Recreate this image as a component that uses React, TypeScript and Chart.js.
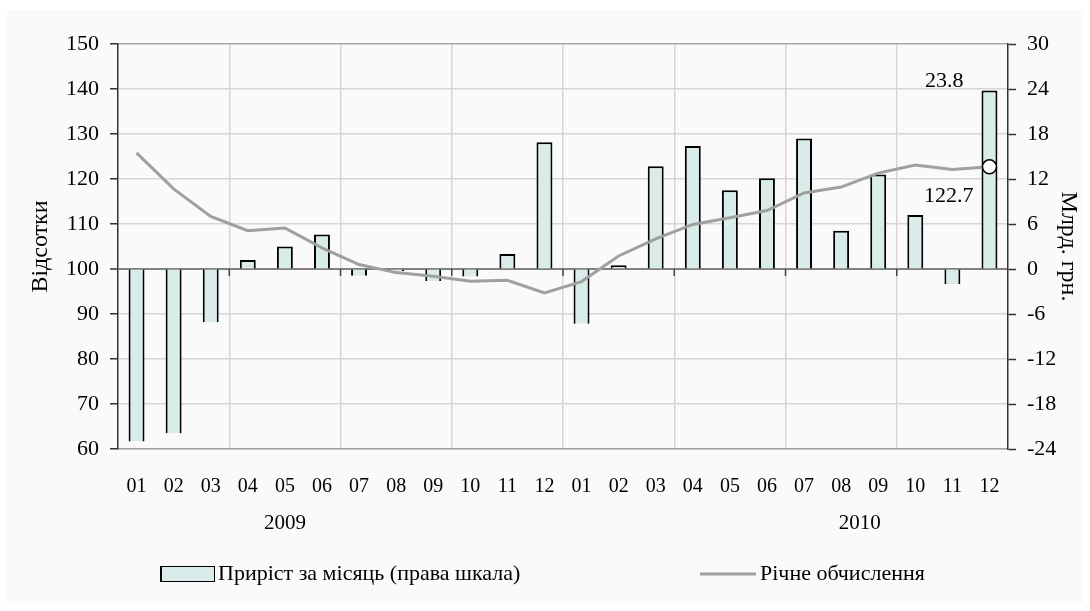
import React, { useEffect, useRef } from "react";
import { Chart, registerables } from "chart.js";

Chart.register(...registerables);

const FONT = "'Liberation Serif', 'Times New Roman', serif";

const months = [
  "01", "02", "03", "04", "05", "06", "07", "08", "09", "10", "11", "12",
  "01", "02", "03", "04", "05", "06", "07", "08", "09", "10", "11", "12",
];
const years = ["2009", "2010"];

// Приріст за місяць, млрд. грн. (права шкала)
const monthlyGrowth = [
  -23.0, -21.9, -7.1, 1.2, 3.0, 4.6, -0.9, -0.3, -1.6, -1.0, 2.0, 16.9,
  -7.3, 0.5, 13.7, 16.4, 10.5, 12.1, 17.4, 5.1, 12.6, 7.2, -2.0, 23.8,
];

// Річне обчислення, відсотки (ліва шкала)
const annualCalc = [
  125.8, 117.8, 111.7, 108.5, 109.1, 104.7, 101.0, 99.2, 98.4, 97.3, 97.5, 94.7,
  97.2, 102.9, 106.7, 109.9, 111.4, 113.0, 116.9, 118.2, 121.3, 123.1, 122.1, 122.7,
];

const leftAxis = { min: 60, max: 150, step: 10 };
const rightAxis = { min: -24, max: 30, step: 6 };

const legendLabels = ["Приріст за місяць (права шкала)", "Річне обчислення"];
const axisTitles = ["Відсотки", "Млрд. грн."];

const GRID = "#d6d6d6";
const BAR_FILL = "#d9ecea";
const LINE_COLOR = "#a0a0a0";

export default function App() {
  const ref = useRef<HTMLCanvasElement>(null);

  useEffect(() => {
    document.body.style.margin = "0";
    const canvas = ref.current;
    if (!canvas) return;

    const bgPlugin = {
      id: "bg",
      beforeDraw(chart: any) {
        const ctx = chart.ctx;
        ctx.save();
        ctx.fillStyle = "#ffffff";
        ctx.fillRect(0, 0, chart.width, chart.height);
        ctx.fillStyle = "#fafafa";
        ctx.fillRect(7, 10, chart.width - 14, chart.height - 18);
        ctx.restore();
      },
    };

    const decoPlugin = {
      id: "deco",
      afterDatasetsDraw(chart: any) {
        const ctx = chart.ctx;
        const xs = chart.scales.x;
        const ys = chart.scales.y;
        ctx.save();
        // small tick marks below the 100 line at the quarter boundaries
        const y0 = ys.getPixelForValue(100);
        ctx.strokeStyle = "#444";
        ctx.lineWidth = 1.5;
        for (let i = 3; i < months.length; i += 3) {
          const gx = (xs.getPixelForValue(i - 1) + xs.getPixelForValue(i)) / 2;
          ctx.beginPath();
          ctx.moveTo(gx, y0);
          ctx.lineTo(gx, y0 + 7);
          ctx.stroke();
        }

        // annotations for last values
        const last = months.length - 1;
        const bar = chart.getDatasetMeta(0).data[last];
        const pt = chart.getDatasetMeta(1).data[last];
        ctx.fillStyle = "#000";
        ctx.font = `22px ${FONT}`;
        ctx.textAlign = "right";
        ctx.textBaseline = "middle";
        ctx.fillText(monthlyGrowth[last].toFixed(1), bar.x - 26, bar.y - 9);
        ctx.fillText(annualCalc[last].toFixed(1), pt.x - 16, pt.y + 29);

        // year labels
        ctx.font = `21px ${FONT}`;
        ctx.textAlign = "center";
        const x2009 = xs.getPixelForValue(4);
        const x2010 = (xs.getPixelForValue(19) + xs.getPixelForValue(20)) / 2;
        ctx.fillText(years[0], x2009, 523);
        ctx.fillText(years[1], x2010, 523);

        // legend
        const ly = 574;
        ctx.fillStyle = BAR_FILL;
        ctx.fillRect(160, ly - 8, 55, 16);
        ctx.strokeStyle = "#000";
        ctx.lineWidth = 1;
        ctx.strokeRect(160.5, ly - 7.5, 54, 15);
        ctx.lineWidth = 2;
        ctx.beginPath();
        ctx.moveTo(161, ly - 8);
        ctx.lineTo(161, ly + 8);
        ctx.stroke();
        ctx.fillStyle = "#000";
        ctx.font = `22px ${FONT}`;
        ctx.textAlign = "left";
        ctx.fillText(legendLabels[0], 218, ly);

        ctx.strokeStyle = LINE_COLOR;
        ctx.lineWidth = 3;
        ctx.beginPath();
        ctx.moveTo(700, ly);
        ctx.lineTo(756, ly);
        ctx.stroke();
        ctx.fillText(legendLabels[1], 760, ly);
        ctx.restore();
      },
    };

    const chart = new Chart(canvas, {
      type: "bar",
      data: {
        labels: months,
        datasets: [
          {
            type: "bar",
            label: legendLabels[0],
            data: monthlyGrowth,
            yAxisID: "y1",
            backgroundColor: BAR_FILL,
            borderColor: "#000",
            borderWidth: (c: any) => {
              const v = monthlyGrowth[c.dataIndex];
              return v < 0
                ? { left: 2, right: 2, top: 0, bottom: 0 }
                : { left: 2, right: 2, top: 2, bottom: 0 };
            },
            borderSkipped: false,
            barPercentage: 0.43,
            categoryPercentage: 1,
            order: 2,
          } as any,
          {
            type: "line",
            label: legendLabels[1],
            data: annualCalc,
            yAxisID: "y",
            borderColor: LINE_COLOR,
            borderWidth: 3,
            tension: 0,
            pointRadius: (c: any) => (c.dataIndex === annualCalc.length - 1 ? 7 : 0),
            pointBackgroundColor: "#ffffff",
            pointBorderColor: "#000000",
            pointBorderWidth: 1.5,
            order: 1,
          } as any,
        ],
      },
      options: {
        responsive: false,
        animation: false,
        layout: { padding: { top: 44, left: 0, right: 0, bottom: 0 } },
        plugins: {
          legend: { display: false },
          tooltip: { enabled: false },
        },
        scales: {
          x: {
            type: "category",
            offset: true,
            grid: {
              offset: true,
              drawTicks: false,
              color: (c: any) =>
                c.index % 3 === 0 && c.index > 0 && c.index < months.length ? GRID : "rgba(0,0,0,0)",
              lineWidth: 1.5,
            },
            border: { color: "#a0a0a0", width: 1.5 },
            ticks: {
              font: { family: FONT, size: 20 },
              color: "#000",
              padding: 26,
              maxRotation: 0,
              autoSkip: false,
            },
            afterFit(s: any) {
              s.height = 162;
            },
          },
          y: {
            position: "left",
            min: leftAxis.min,
            max: leftAxis.max,
            ticks: {
              stepSize: leftAxis.step,
              font: { family: FONT, size: 22 },
              color: "#000",
              padding: 11,
            },
            grid: {
              color: (c: any) =>
                c.tick && c.tick.value === 100 ? "#808080" : c.tick && c.tick.value === leftAxis.max ? "#a6a6a6" : GRID,
              lineWidth: (c: any) => (c.tick && c.tick.value === 100 ? 2 : 1.5),
              tickColor: "#333",
              tickLength: 8,
              tickWidth: 1.5,
            },
            border: { color: "#333", width: 1.5 },
            title: {
              display: true,
              text: axisTitles[0],
              font: { family: FONT, size: 24 },
              color: "#000",
              padding: { top: 26, bottom: 0 },
            },
            afterFit(s: any) {
              s.width = 118;
            },
          },
          y1: {
            position: "right",
            min: rightAxis.min,
            max: rightAxis.max,
            ticks: {
              stepSize: rightAxis.step,
              font: { family: FONT, size: 22 },
              color: "#000",
              padding: 11,
            },
            grid: {
              drawOnChartArea: false,
              tickColor: "#333",
              tickLength: 8,
              tickWidth: 1.5,
            },
            border: { color: "#333", width: 1.5 },
            title: {
              display: true,
              text: axisTitles[1],
              font: { family: FONT, size: 24 },
              color: "#000",
              padding: { top: 7, bottom: 0 },
            },
            afterFit(s: any) {
              s.width = 82;
            },
          },
        },
      } as any,
      plugins: [bgPlugin, decoPlugin],
    });

    return () => chart.destroy();
  }, []);

  return (
    <canvas
      ref={ref}
      width={1090}
      height={611}
      style={{ display: "block", width: 1090, height: 611 }}
    />
  );
}
